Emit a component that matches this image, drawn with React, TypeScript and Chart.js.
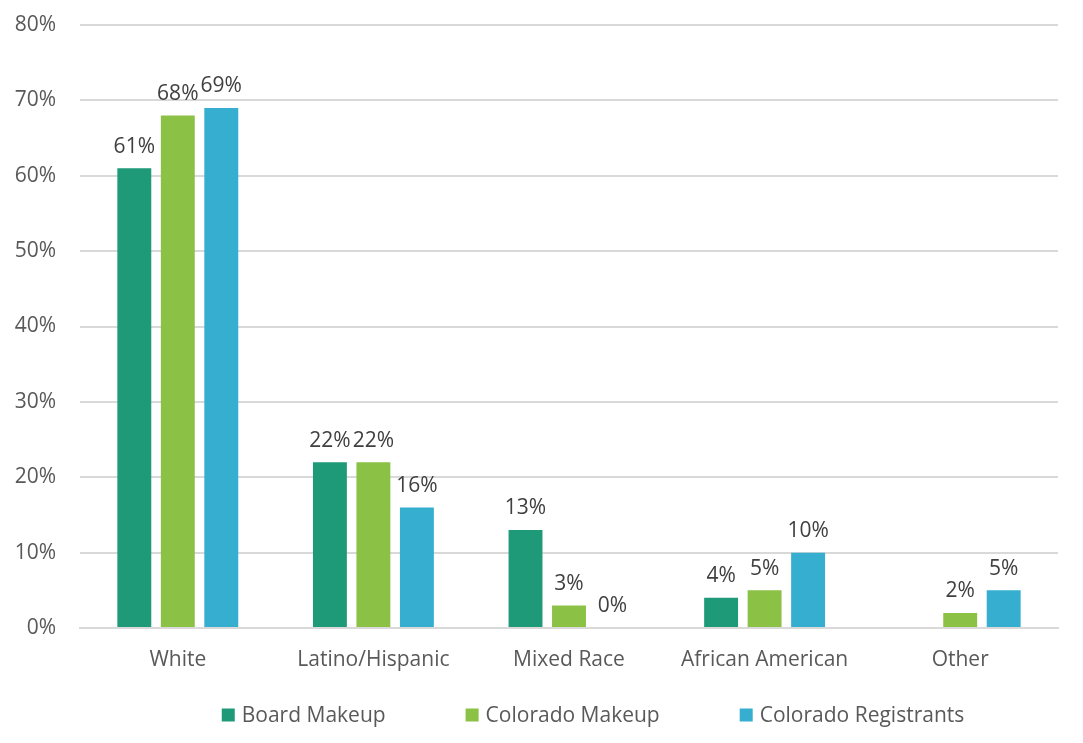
import React, { useEffect, useRef } from "react";
import { Chart, registerables } from "chart.js";

Chart.register(...registerables);

const categories = ["White", "Latino/Hispanic", "Mixed Race", "African American", "Other"];
const seriesNames = ["Board Makeup", "Colorado Makeup", "Colorado Registrants"];
const boardMakeup = [61, 22, 13, 4, null];
const coloradoMakeup = [68, 22, 3, 5, 2];
const coloradoRegistrants = [69, 16, 0, 10, 5];
const seriesColors = ["#1e9a79", "#8bc145", "#35aecf"];
const yTicks = [0, 10, 20, 30, 40, 50, 60, 70, 80];

const FONT = "'Open Sans', Lato, sans-serif";
const TEXT = "#595959";
const FS = 21;

const dataLabelPlugin = {
  id: "dataLabels",
  afterDatasetsDraw(chart: any) {
    const ctx = chart.ctx;
    ctx.save();
    ctx.font = `${FS}px ${FONT}`;
    ctx.fillStyle = "#404040";
    ctx.textAlign = "center";
    ctx.textBaseline = "bottom";
    chart.data.datasets.forEach((ds: any, i: number) => {
      const meta = chart.getDatasetMeta(i);
      meta.data.forEach((bar: any, j: number) => {
        const v = ds.data[j];
        if (v === null || v === undefined) return;
        ctx.fillText(`${v}%`, bar.x, bar.y - 11);
      });
    });
    ctx.restore();
  },
};

const legendPlugin = {
  id: "customLegend",
  afterDraw(chart: any) {
    const ctx = chart.ctx;
    ctx.save();
    ctx.font = `${FS}px ${FONT}`;
    ctx.textBaseline = "middle";
    ctx.textAlign = "left";
    const box = 13;
    const gapText = 7;
    const gapItem = 80;
    const items = chart.data.datasets.map((ds: any) => ({
      label: ds.label,
      color: ds.backgroundColor,
      w: box + gapText + ctx.measureText(ds.label).width,
    }));
    const total = items.reduce((s: number, it: any) => s + it.w, 0) + gapItem * (items.length - 1);
    let x = 593 - total / 2;
    const y = 715;
    items.forEach((it: any) => {
      ctx.fillStyle = it.color;
      ctx.fillRect(x, y - box / 2, box, box);
      ctx.fillStyle = TEXT;
      ctx.fillText(it.label, x + box + gapText, y + 1);
      x += it.w + gapItem;
    });
    ctx.restore();
  },
};

export default function App() {
  const ref = useRef<HTMLCanvasElement>(null);
  useEffect(() => {
    document.body.style.margin = "0";
    const chart = new Chart(ref.current!, {
      type: "bar",
      data: {
        labels: categories,
        datasets: [boardMakeup, coloradoMakeup, coloradoRegistrants].map((d, i) => ({
          label: seriesNames[i],
          data: d,
          backgroundColor: seriesColors[i],
          categoryPercentage: 0.667,
          barPercentage: 0.78,
        })),
      },
      options: {
        animation: false,
        responsive: false,
        layout: { padding: { left: 0, right: 25, top: 25, bottom: 0 } },
        plugins: { legend: { display: false }, tooltip: { enabled: false } },
        scales: {
          x: {
            grid: { display: false, drawTicks: false },
            border: { color: "#d9d9d9", width: 2 },
            ticks: { color: TEXT, font: { family: FONT, size: FS }, padding: 19 },
            afterFit(scale: any) {
              scale.height = 115;
              scale.paddingLeft = 0;
              scale.paddingRight = 0;
            },
          },
          y: {
            min: 0,
            max: 80,
            afterBuildTicks(scale: any) {
              scale.ticks = yTicks.map((v) => ({ value: v }));
            },
            grid: { color: "#d9d9d9", lineWidth: 2, drawTicks: false },
            border: { display: false },
            ticks: {
              color: TEXT,
              font: { family: FONT, size: FS },
              padding: 24,
              callback: (v: any) => `${v}%`,
            },
            afterFit(scale: any) {
              scale.width = 80;
              scale.paddingTop = 0;
              scale.paddingBottom = 0;
            },
          },
        },
      },
      plugins: [dataLabelPlugin, legendPlugin],
    });
    return () => chart.destroy();
  }, []);
  return (
    <div style={{ width: 1083, height: 743 }}>
      <canvas ref={ref} width={1083} height={743} />
    </div>
  );
}
